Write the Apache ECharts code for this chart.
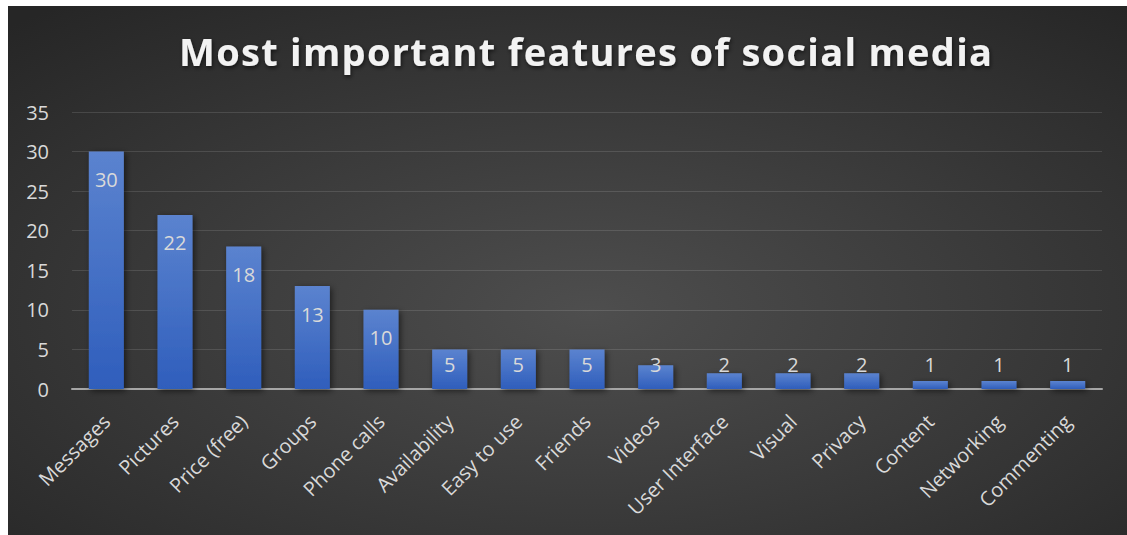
<!DOCTYPE html>
<html>
<head>
<meta charset="utf-8">
<script src="https://cdn.jsdelivr.net/npm/echarts@6/dist/echarts.min.js"></script>
<style>
  html, body { margin: 0; padding: 0; background: #ffffff; }
  #chart { position: absolute; left: 8px; top: 6px; width: 1119px; height: 529px; }
</style>
</head>
<body>
<div id="chart"></div>
<script>
// Survey answers: most important features of social media
const categories = ['Messages', 'Pictures', 'Price (free)', 'Groups', 'Phone calls', 'Availability',
  'Easy to use', 'Friends', 'Videos', 'User Interface', 'Visual', 'Privacy', 'Content', 'Networking', 'Commenting'];
const counts = [30, 22, 18, 13, 10, 5, 5, 5, 3, 2, 2, 2, 1, 1, 1];
const yTicks = { min: 0, max: 35, interval: 5 };
const titleText = 'Most important features of social media';

const labelColor = '#d9d9d9';
const font = '"Open Sans", "Noto Sans", sans-serif';

// Tall bars carry their value just under the top; short ones keep it a fixed step above the axis.
const barData = counts.map(v => ({
  value: v,
  label: v > 5
    ? { position: 'insideTop', distance: 18 }
    : { position: 'insideBottom', distance: 15 }
}));

const chart = echarts.init(document.getElementById('chart'), null, { renderer: 'svg' });
chart.setOption({
  animation: false,
  backgroundColor: {
    type: 'radial', x: 0.52, y: 0.58, r: 0.75,
    colorStops: [
      { offset: 0, color: '#4e4e4e' },
      { offset: 1, color: '#262626' }
    ]
  },
  title: {
    text: titleText,
    left: 166,
    top: 21,
    textStyle: {
      color: '#f2f2f2',
      fontFamily: font,
      fontWeight: 'bold',
      fontSize: 38,
      textShadowColor: 'rgba(0,0,0,0.6)',
      textShadowBlur: 4,
      textShadowOffsetX: 1,
      textShadowOffsetY: 2
    }
  },
  grid: { left: 64, right: 25, top: 106, bottom: 146 },
  xAxis: {
    type: 'category',
    data: categories,
    axisTick: { show: false },
    axisLine: { lineStyle: { color: '#a6a6a6', width: 2 } },
    axisLabel: {
      rotate: 45,
      interval: 0,
      margin: 29,
      color: labelColor,
      fontFamily: font,
      fontSize: 20
    }
  },
  yAxis: {
    type: 'value',
    min: yTicks.min,
    max: yTicks.max,
    interval: yTicks.interval,
    axisLine: { show: false },
    axisTick: { show: false },
    splitLine: { lineStyle: { color: 'rgba(255,255,255,0.12)', width: 1 } },
    axisLabel: {
      margin: 23,
      color: labelColor,
      fontFamily: font,
      fontSize: 20
    }
  },
  series: [{
    type: 'bar',
    data: barData,
    barWidth: '51%',
    itemStyle: {
      color: {
        type: 'linear', x: 0, y: 0, x2: 0, y2: 1,
        colorStops: [
          { offset: 0, color: '#5b83cf' },
          { offset: 1, color: '#2f5ebc' }
        ]
      },
      shadowColor: 'rgba(0,0,0,0.55)',
      shadowBlur: 6,
      shadowOffsetX: 2,
      shadowOffsetY: 2
    },
    label: {
      show: true,
      color: labelColor,
      fontFamily: font,
      fontSize: 20
    }
  }]
});

// Spread the title letters a little, as in the headline style.
function spaceTitle() {
  document.querySelectorAll('#chart text').forEach(t => {
    if (t.textContent === titleText) t.setAttribute('letter-spacing', '1.3');
  });
}
chart.on('finished', spaceTitle);
spaceTitle();
</script>
</body>
</html>
